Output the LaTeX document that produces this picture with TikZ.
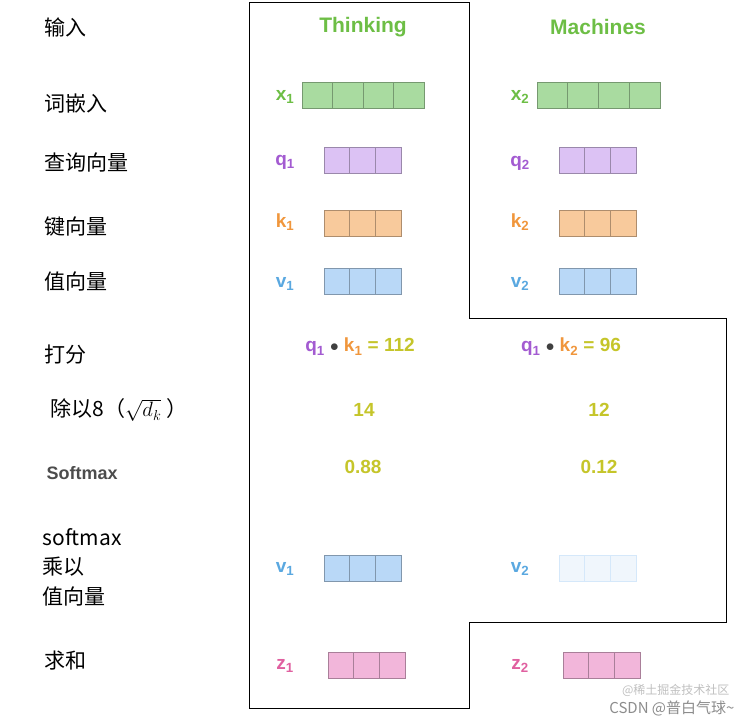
\documentclass[tikz,border=0pt]{standalone}
\usepackage{fontspec}
\setmainfont{Liberation Sans}
\newfontfamily\cjk{Noto Sans CJK SC}
\begin{document}
\begin{tikzpicture}[x=1pt,y=-1pt,
  zh/.style={font=\cjk\fontsize{21}{25}\selectfont,anchor=west},
  lab/.style={font=\bfseries\fontsize{19}{22}\selectfont},
  num/.style={font=\bfseries\fontsize{19}{22}\selectfont,text=cY},
  cell/.style={draw=#1!70!black,fill=#1,line width=0.7pt}]
\definecolor{cG}{HTML}{A9DBA0}\definecolor{cP}{HTML}{DCC2F4}
\definecolor{cO}{HTML}{F8CA9C}\definecolor{cB}{HTML}{B9D8F7}
\definecolor{cK}{HTML}{F2B6DA}\definecolor{cF}{HTML}{F0F6FC}
\definecolor{tG}{HTML}{6DBE45}\definecolor{tP}{HTML}{A35BD1}
\definecolor{tO}{HTML}{F0963C}\definecolor{tB}{HTML}{5AA8E0}
\definecolor{tK}{HTML}{E060A0}\definecolor{cY}{HTML}{C5C52A}
\useasboundingbox (0,0) rectangle (746,723);
\draw[line width=0.8pt] (249,2) -- (469,2) -- (469,318) -- (726,318) -- (726,622) -- (469,622) -- (469,708) -- (249,708) -- cycle;
% left labels
\node[zh] (l1) at (41,27) {输入};
\node[zh] (l2) at (41,104) {词嵌入};
\node[zh] (l3) at (41,162) {查询向量};
\node[zh] (l4) at (41,227) {键向量};
\node[zh] (l5) at (41,281) {值向量};
\node[zh] (l6) at (41,355) {打分};
\node[zh] (l7) at (47,410) {除以8（$\sqrt{d_k}$ ）};
\node[anchor=west,font=\bfseries\fontsize{18}{20}\selectfont,text=black!70] (l8) at (43,473) {Softmax};
\node[zh,align=left,font=\cjk\fontsize{21}{29.5}\selectfont] (l9) at (39,567) {softmax\\乘以\\值向量};
\node[zh] (l10) at (41,661) {求和};
% headers
\node[font=\bfseries\fontsize{21}{24}\selectfont,text=tG] (h1) at (363,27) {Thinking};
\node[font=\bfseries\fontsize{21}{24}\selectfont,text=tG] (h2) at (598,27) {Machines};
% boxes
\newcommand\cells[6]{% x0,y0,n,w,h,color
  \foreach \i in {1,...,#3}{\draw[cell=#6] ({#1+(\i-1)*#4},#2) rectangle ++(#4,#5);}}
\node[lab,text=tG] (x1) at (285,97) {x\textsubscript{1}};
\cells{302}{82}{4}{30.5}{26}{cG}
\node[lab,text=tG] (x2) at (520,97) {x\textsubscript{2}};
\cells{537}{82}{4}{30.75}{26}{cG}
\node[lab,text=tP] (q1) at (285,162) {q\textsubscript{1}};
\cells{324}{147}{3}{25.7}{26}{cP}
\node[lab,text=tP] (q2) at (520,163) {q\textsubscript{2}};
\cells{559}{147}{3}{25.7}{26}{cP}
\node[lab,text=tO] (k1) at (285,222) {k\textsubscript{1}};
\cells{324}{210}{3}{25.7}{26}{cO}
\node[lab,text=tO] (k2) at (520,222) {k\textsubscript{2}};
\cells{559}{210}{3}{25.7}{26}{cO}
\node[lab,text=tB] (v1) at (285,284) {v\textsubscript{1}};
\cells{324}{268}{3}{25.7}{26}{cB}
\node[lab,text=tB] (v2) at (520,284) {v\textsubscript{2}};
\cells{559}{268}{3}{25.7}{26}{cB}
% scores
\node[num] (s1) at (360,347) {\textcolor{tP}{q\textsubscript{1}} \textcolor{black!75}{$\bullet$} \textcolor{tO}{k\textsubscript{1}} = 112};
\node[num] (s2) at (571,347) {\textcolor{tP}{q\textsubscript{1}} \textcolor{black!75}{$\bullet$} \textcolor{tO}{k\textsubscript{2}} = 96};
\node[num] (d1) at (364,410) {14};
\node[num] (d2) at (599,410) {12};
\node[num] (m1) at (363,467) {0.88};
\node[num] (m2) at (599,467) {0.12};
\node[lab,text=tB] (w1) at (285,569) {v\textsubscript{1}};
\cells{324}{555}{3}{25.7}{26}{cB}
\node[lab,text=tB] (w2) at (520,569) {v\textsubscript{2}};
\foreach \i in {1,2,3}{\draw[draw=cB!60,fill=cF,line width=0.7pt] ({559+(\i-1)*25.7},555) rectangle ++(25.7,26);}
\node[lab,text=tK] (z1) at (285,666) {z\textsubscript{1}};
\cells{328}{652}{3}{25.7}{26}{cK}
\node[lab,text=tK] (z2) at (520,666) {z\textsubscript{2}};
\cells{563}{652}{3}{25.7}{26}{cK}
% watermarks
\node[anchor=east,font=\cjk\fontsize{12}{14}\selectfont,text=black!25] (wm1) at (733,690) {@稀土掘金技术社区};
\node[anchor=east,font=\cjk\fontsize{15}{17}\selectfont,text=black!45] (wm2) at (738,708) {CSDN @普白气球\textasciitilde};
\end{tikzpicture}
\end{document}
